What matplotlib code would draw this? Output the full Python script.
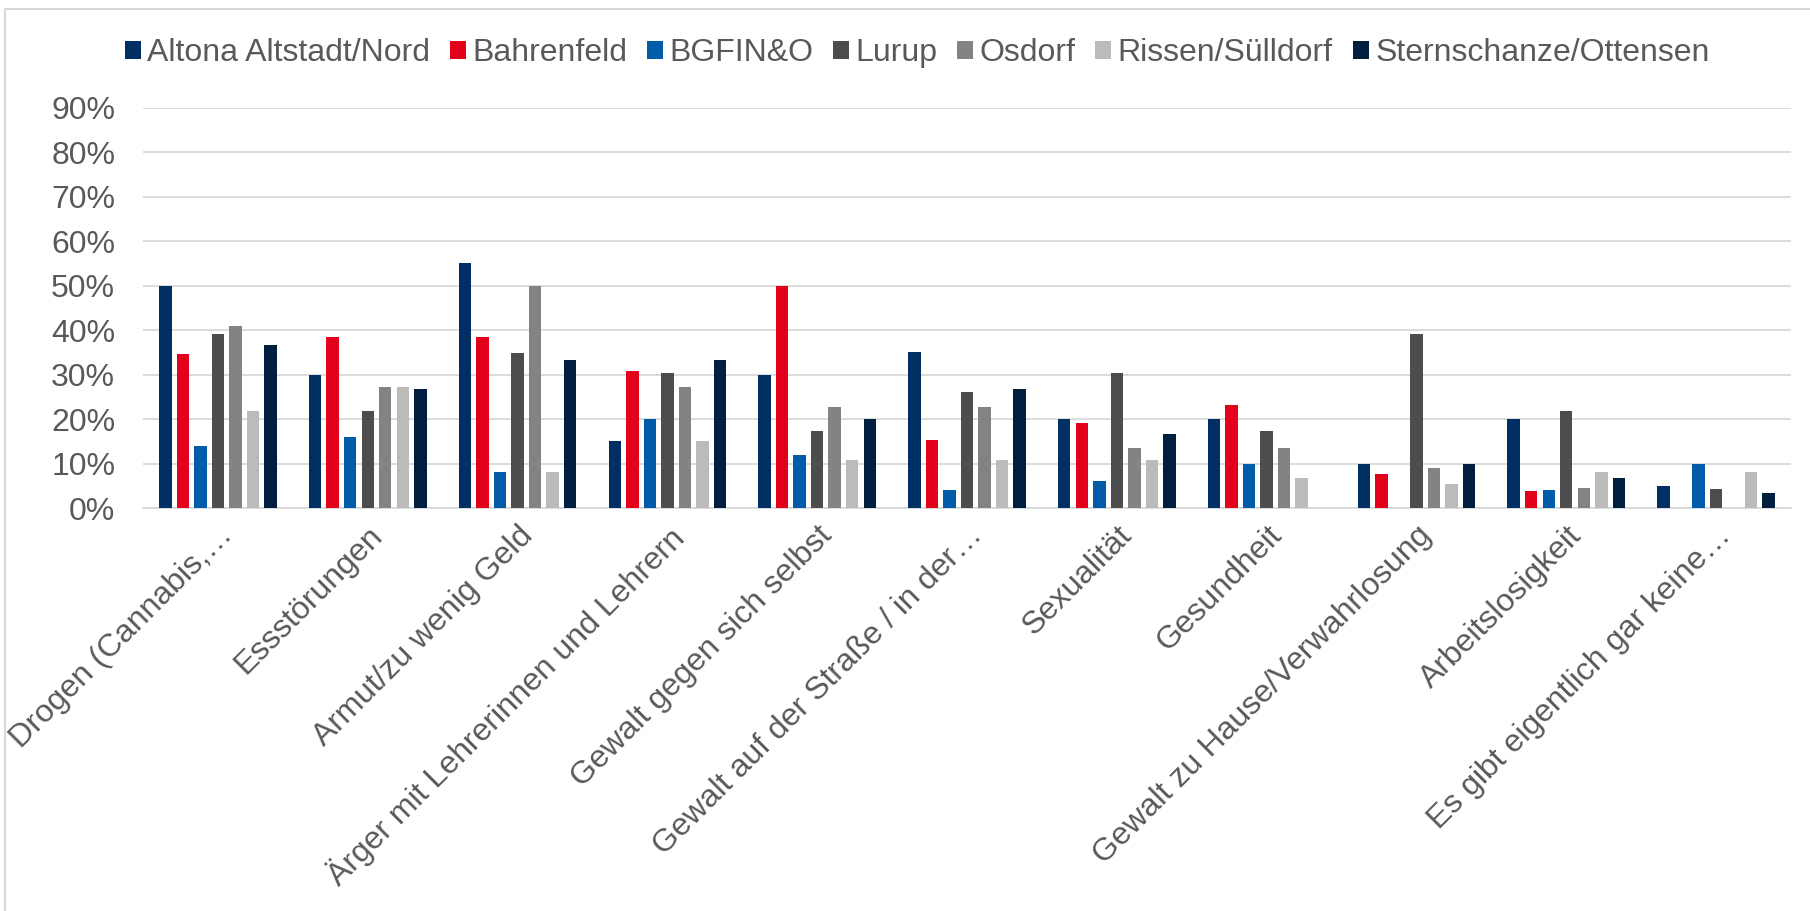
import matplotlib
matplotlib.use("Agg")
import matplotlib.pyplot as plt
from matplotlib.patches import Rectangle
from matplotlib.ticker import FuncFormatter, MultipleLocator
import numpy as np

plt.rcParams['font.family'] = ['Liberation Sans', 'DejaVu Sans']

categories = [
    "Drogen (Cannabis,…",
    "Essstörungen",
    "Armut/zu wenig Geld",
    "Ärger mit Lehrerinnen und Lehrern",
    "Gewalt gegen sich selbst",
    "Gewalt auf der Straße / in der…",
    "Sexualität",
    "Gesundheit",
    "Gewalt zu Hause/Verwahrlosung",
    "Arbeitslosigkeit",
    "Es gibt eigentlich gar keine…",
]

series_names = ["Altona Altstadt/Nord", "Bahrenfeld", "BGFIN&O", "Lurup",
                "Osdorf", "Rissen/Sülldorf", "Sternschanze/Ottensen"]

altona = [50.0, 30.0, 55.0, 15.0, 30.0, 35.0, 20.0, 20.0, 10.0, 20.0, 5.0]
bahrenfeld = [34.6, 38.5, 38.5, 30.8, 50.0, 15.4, 19.2, 23.1, 7.7, 3.8, 0.0]
bgfino = [14.0, 16.0, 8.0, 20.0, 12.0, 4.0, 6.0, 10.0, 0.0, 4.0, 10.0]
lurup = [39.1, 21.7, 34.8, 30.4, 17.4, 26.1, 30.4, 17.4, 39.1, 21.7, 4.3]
osdorf = [40.9, 27.3, 50.0, 27.3, 22.7, 22.7, 13.6, 13.6, 9.1, 4.5, 0.0]
rissen = [21.9, 27.3, 8.2, 15.0, 10.9, 10.9, 10.9, 6.8, 5.5, 8.2, 8.2]
sternschanze = [36.7, 26.7, 33.3, 33.3, 20.0, 26.7, 16.7, 0.0, 10.0, 6.7, 3.3]

series_values = [altona, bahrenfeld, bgfino, lurup, osdorf, rissen, sternschanze]
colors = ["#002F63", "#E2001A", "#005CA9", "#4D4D4D", "#838383", "#BBBBBB", "#001E3D"]

FS = 23

W, H = 1810, 911
fig = plt.figure(figsize=(W / 100, H / 100), dpi=100)
ax = fig.add_axes([143 / W, 1 - 508 / H, (1791 - 143) / W, (508 - 107.7) / H])

x = np.arange(len(categories))
pitch = 0.117
bw = 0.083
for i, (name, vals, c) in enumerate(zip(series_names, series_values, colors)):
    ax.bar(x + (i - 3) * pitch, np.array(vals) / 100.0, width=bw, color=c,
           label=name, zorder=3)

ax.set_xlim(-0.5, len(categories) - 0.5)
ax.set_ylim(0, 0.9)
ax.yaxis.set_major_locator(MultipleLocator(0.1))
ax.yaxis.set_major_formatter(FuncFormatter(lambda v, p: f"{v*100:.0f}%"))
ax.grid(axis='y', color='#D9D9D9', linewidth=1.3, zorder=0)
ax.set_axisbelow(True)
for s in ['top', 'right', 'left']:
    ax.spines[s].set_visible(False)
ax.spines['bottom'].set_color('#D9D9D9')
ax.spines['bottom'].set_linewidth(1.3)

ax.tick_params(axis='y', length=0, pad=20, labelsize=FS, labelcolor='#595959')
ax.tick_params(axis='x', length=0, pad=9, labelsize=FS, labelcolor='#595959')
ax.set_xticks(x)
ax.set_xticklabels(categories, rotation=45, ha='right', va='top',
                   rotation_mode='anchor')

handles, labels = ax.get_legend_handles_labels()
leg = fig.legend(handles, labels, loc='center', bbox_to_anchor=(917 / W, 1 - 53 / H),
                 ncol=7, frameon=False, fontsize=FS, handlelength=0.5,
                 handleheight=0.5, handletextpad=0.2, columnspacing=0.62,
                 borderaxespad=0)
for t in leg.get_texts():
    t.set_color('#595959')

fig.patches.append(Rectangle((5 / W, -0.1), 1.2, 1 - 9 / H + 0.1,
                             transform=fig.transFigure, fill=False,
                             edgecolor='#D9D9D9', linewidth=1.5))

fig.savefig("out.png", dpi=100, facecolor='white')
